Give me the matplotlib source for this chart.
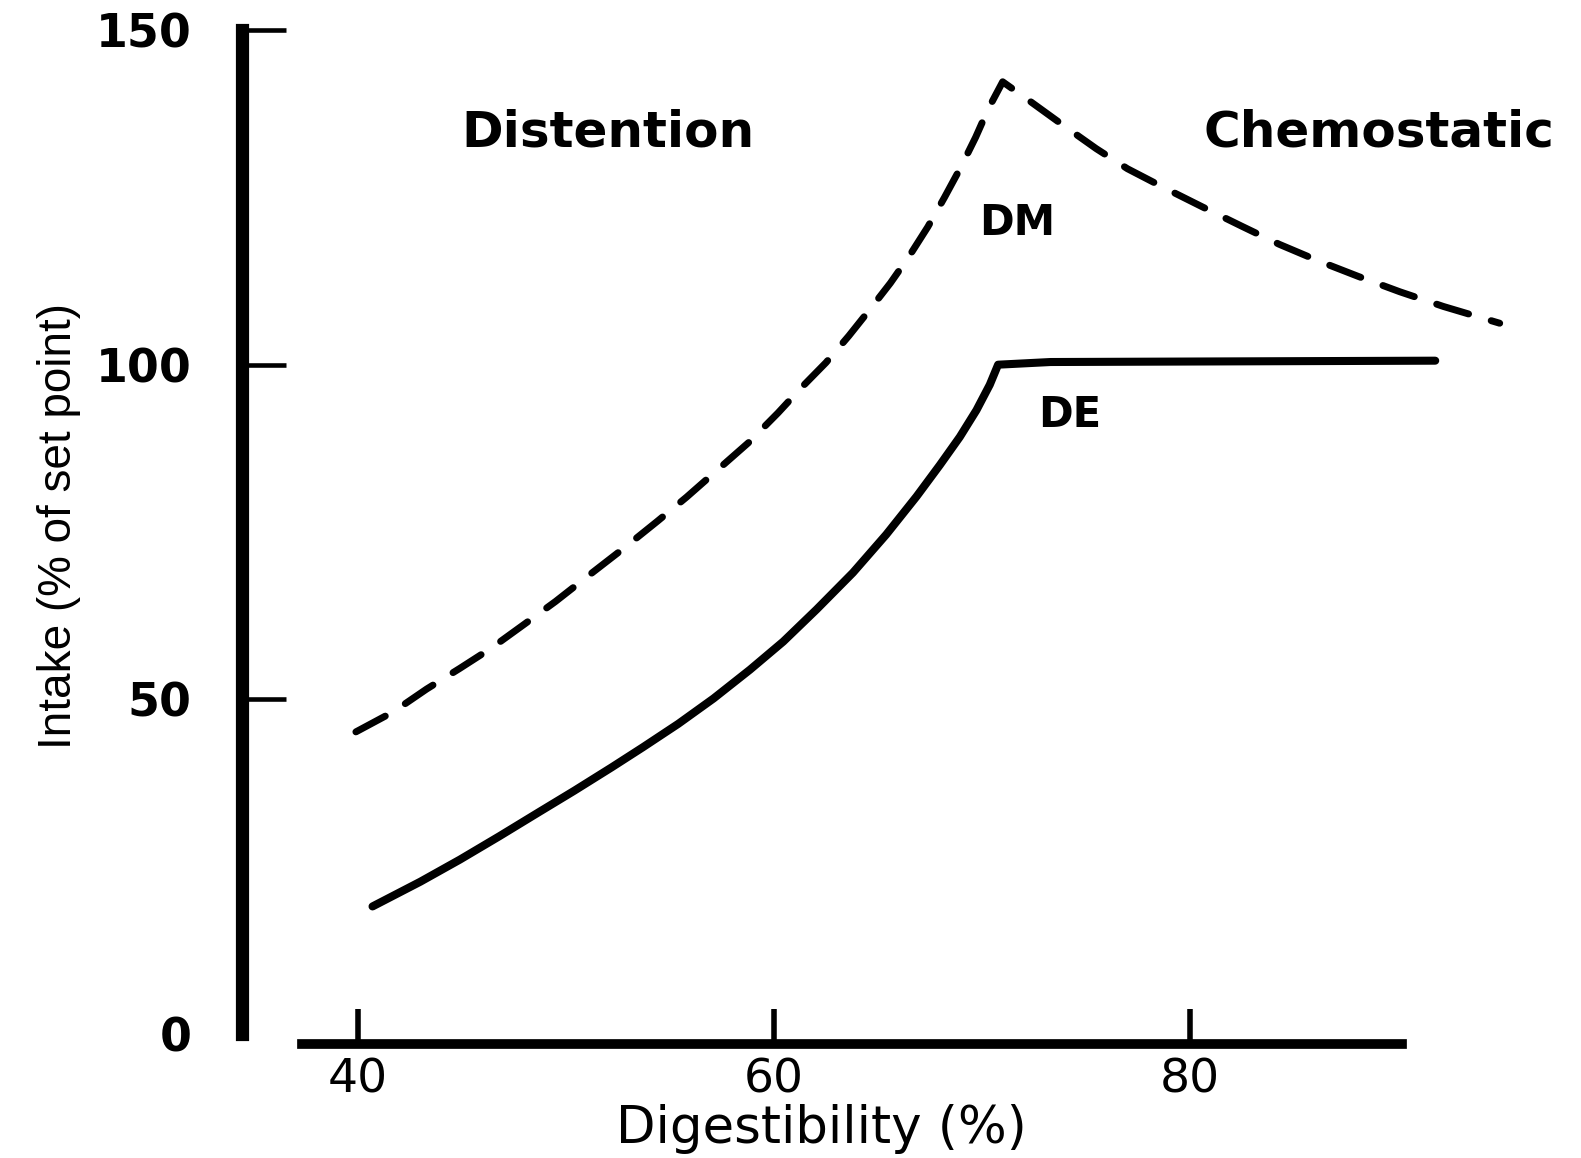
import matplotlib
matplotlib.use("Agg")
from matplotlib import pyplot as plt

# Digestibility (%) vs intake (% of set point)
# DM intake: rises under distention, falls once the chemostatic limit is hit
dm_x = [39.9, 41.7, 43.3, 44.9, 46.4, 48.0, 49.5, 51.1, 52.8, 54.4,
        55.8, 57.3, 58.8, 60.2, 61.3, 62.5, 63.6, 64.6, 65.6, 66.5,
        67.4, 68.2, 69.0, 69.7, 70.3, 71.0,
        72.4, 74.0, 75.5, 77.0, 78.8, 80.6, 82.5, 84.3, 86.2, 88.1,
        90.1, 92.2, 94.9]
dm_y = [45.1, 48.1, 51.5, 54.6, 57.6, 61.2, 64.6, 68.5, 72.6, 76.6,
        80.2, 84.3, 88.4, 92.8, 96.5, 100.3, 104.3, 108.2, 112.2, 116.2,
        120.6, 125.0, 129.6, 134.0, 138.2, 142.3,
        139.2, 135.6, 132.3, 129.3, 126.4, 123.6, 120.7, 118.0, 115.5, 113.2,
        110.9, 108.7, 106.2]

# DE intake: rises up to the set point then stays flat
de_x = [40.7, 43.0, 44.9, 46.8, 48.7, 50.4, 52.2, 53.7, 55.4, 57.1,
        58.85, 60.45, 62.05, 63.8, 65.4, 66.86, 67.98, 68.94, 69.74, 70.38,
        70.78, 73.3, 91.8]
de_y = [19.0, 22.7, 26.0, 29.5, 33.1, 36.3, 39.8, 42.8, 46.3, 50.1,
        54.4, 58.6, 63.4, 68.9, 74.6, 80.3, 85.0, 89.2, 93.2, 97.0,
        100.0, 100.4, 100.6]

x_ticks = [40, 60, 80]
y_ticks = [0, 50, 100, 150]

fig = plt.figure(figsize=(15.81, 11.58), dpi=100)
ax = fig.add_axes([0.1475, 0.0844, 0.8287, 0.901])
ax.set_xlim(34, 97)
ax.set_ylim(-4, 152)

# the two curves
ax.plot(dm_x, dm_y, color="black", lw=5, linestyle=(0, (4.8, 3.4)),
        dash_capstyle="round", dash_joinstyle="round")
ax.plot(de_x, de_y, color="black", lw=5.8, solid_capstyle="round",
        solid_joinstyle="round")

# axes look: thick detached lines, ticks pointing inward
for s in ["top", "right"]:
    ax.spines[s].set_visible(False)
ax.spines["left"].set_position(("data", 34.4))
ax.spines["left"].set_bounds(0, 150)
ax.spines["left"].set_linewidth(9.5)
ax.spines["bottom"].set_position(("data", -1.5))
ax.spines["bottom"].set_bounds(37.3, 90.2)
ax.spines["bottom"].set_linewidth(7)

ax.set_xticks(x_ticks)
ax.set_yticks(y_ticks)
ax.tick_params(axis="y", direction="in", length=32, width=3.3, pad=36,
               labelsize=33)
ax.tick_params(axis="x", direction="in", length=25, width=4, pad=10,
               labelsize=34)
for lab in ax.get_yticklabels():
    lab.set_fontweight("bold")
ax.yaxis.get_major_ticks()[0].tick1line.set_visible(False)

ax.set_xlabel("Digestibility (%)", fontsize=37)
ax.xaxis.label.set_va("baseline")
ax.xaxis.set_label_coords(0.449, -0.0797)

ax.set_ylabel("Intake (% of set point)", fontsize=33,
              family=["Liberation Sans Narrow", "Liberation Sans"])
ax.yaxis.label.set_va("baseline")
ax.yaxis.set_label_coords(-0.124, 0.512)

# region and curve names
ax.text(52.0, 132.6, "Distention", fontsize=36, fontweight="bold",
        ha="center", va="baseline")
ax.text(89.1, 132.6, "Chemostatic", fontsize=36, fontweight="bold",
        ha="center", va="baseline", clip_on=False)
ax.text(71.7, 119.4, "DM", fontsize=30, fontweight="bold",
        ha="center", va="baseline")
ax.text(74.2, 90.7, "DE", fontsize=30, fontweight="bold",
        ha="center", va="baseline")

plt.savefig("out.png", dpi=100)
